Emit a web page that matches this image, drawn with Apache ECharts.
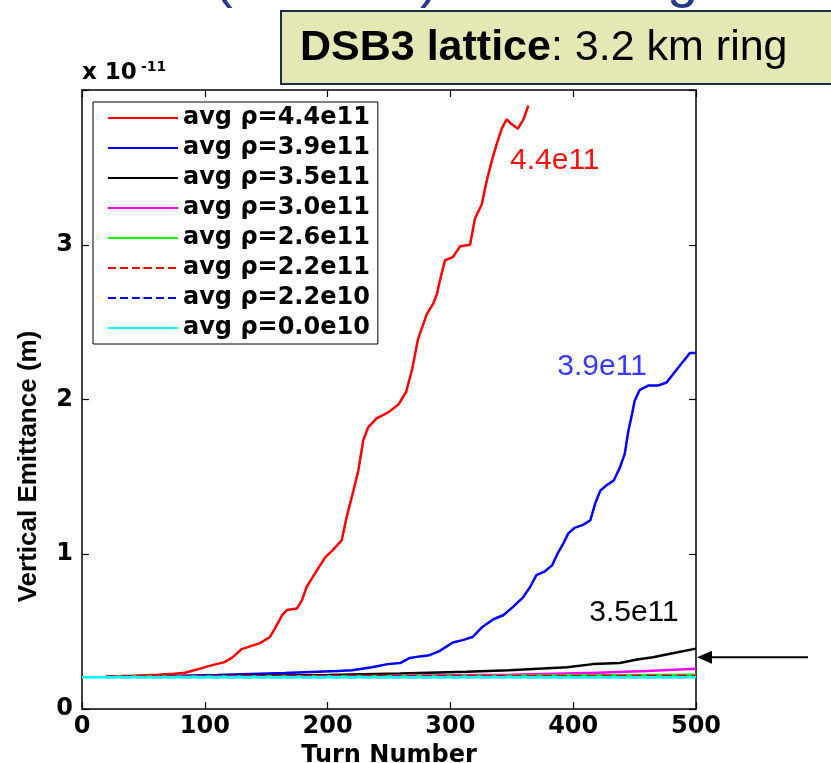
<!DOCTYPE html>
<html>
<head>
<meta charset="utf-8">
<script src="https://cdn.jsdelivr.net/npm/echarts@6/dist/echarts.min.js"></script>
<style>
  html, body { margin: 0; padding: 0; background: #fff; }
  #chart { width: 831px; height: 763px; }
</style>
</head>
<body>
<div id="chart"></div>
<script>
// Turn axis and emittance axis (emittance in units of 1e-11 m)
const turnTicks = [0, 100, 200, 300, 400, 500];
const emittanceTicks = [0, 1, 2, 3, 4];
const emittanceLabels = ['0', '1', '2', '3', ''];

// Legend entries, one per bunch density
const seriesNames = [
  'avg \u03c1=4.4e11', 'avg \u03c1=3.9e11', 'avg \u03c1=3.5e11', 'avg \u03c1=3.0e11',
  'avg \u03c1=2.6e11', 'avg \u03c1=2.2e11', 'avg \u03c1=2.2e10', 'avg \u03c1=0.0e10'
];

// [turn, vertical emittance / 1e-11 m]
const rho44e11 = [
  [20, 0.21], [40, 0.215], [62, 0.222], [75, 0.228], [84, 0.234], [95, 0.258], [103, 0.277],
  [116, 0.303], [122, 0.33], [130, 0.387], [135, 0.40], [145, 0.426], [153, 0.465], [157, 0.52],
  [163, 0.606], [167, 0.64], [175, 0.65], [179, 0.70], [183, 0.79], [190, 0.88], [198, 0.98],
  [204, 1.025], [208, 1.06], [211.5, 1.09], [215.5, 1.24], [221, 1.41], [225, 1.54], [229, 1.735],
  [233, 1.82], [240, 1.88], [243, 1.89], [250, 1.92], [258, 1.97], [264, 2.05], [269, 2.2],
  [273.6, 2.39], [280.7, 2.55], [286, 2.62], [289, 2.68], [291.5, 2.77], [295.6, 2.90], [302, 2.92],
  [308, 2.99], [316, 3.0], [320, 3.17], [325.5, 3.26], [329.5, 3.41], [333.6, 3.54], [337.7, 3.65],
  [341.8, 3.75], [345.8, 3.81], [349.8, 3.78], [355, 3.75], [359.5, 3.81], [363.5, 3.90]
];
const rho39e11 = [
  [20, 0.21], [60, 0.212], [110, 0.22], [165, 0.232], [192, 0.24], [208, 0.245], [220, 0.25],
  [236, 0.27], [249, 0.29], [259, 0.297], [267, 0.33], [275, 0.34], [283, 0.348], [291, 0.374],
  [302, 0.43], [310, 0.445], [318, 0.465], [326, 0.53], [335, 0.58], [343, 0.606], [351, 0.66],
  [359, 0.72], [365, 0.79], [370, 0.865], [377, 0.89], [383, 0.93], [387, 1.0], [392, 1.07],
  [396, 1.135], [401, 1.17], [408, 1.19], [414, 1.22], [418, 1.33], [422, 1.41], [427, 1.445],
  [433, 1.477], [438, 1.56], [442, 1.65], [445, 1.80], [448, 1.91], [450, 1.99], [454, 2.06],
  [461, 2.09], [469, 2.09], [476, 2.11], [484, 2.19], [491, 2.26], [495, 2.30], [500, 2.30]
];
const rho35e11 = [
  [20, 0.21], [100, 0.212], [200, 0.22], [259, 0.23], [313, 0.24], [348, 0.25], [395, 0.27],
  [416, 0.29], [438, 0.297], [452, 0.32], [465, 0.335], [481, 0.36], [500, 0.39]
];
const rho30e11 = [
  [20, 0.21], [150, 0.212], [250, 0.215], [350, 0.222], [420, 0.235], [460, 0.245], [500, 0.26]
];
const rho26e11 = [[20, 0.21], [200, 0.212], [350, 0.215], [500, 0.222]];
const rho22e11 = [[20, 0.21], [250, 0.212], [500, 0.215]];
const rho22e10 = [[20, 0.207], [500, 0.207]];
const rho00e10 = [[0, 0.205], [500, 0.205]];

// Curve labels: text and the [turn, emittance] point they sit on
const curveLabels = ['4.4e11', '3.9e11', '3.5e11'];
const curveLabelAt = [[385, 3.54], [423.5, 2.21], [449.5, 0.62]];
// Point on the right edge that the arrow indicates
const arrowTarget = [500, 0.335];

const colors = ['#ff0000', '#0000ff', '#000000', '#ff00ff', '#00ff00', '#ff0000', '#0000ff', '#00ffff'];
const dashes = ['solid', 'solid', 'solid', 'solid', 'solid', 'dashed', 'dashed', 'solid'];
const dataSets = [rho44e11, rho39e11, rho35e11, rho30e11, rho26e11, rho22e11, rho22e10, rho00e10];
const labelColors = ['#ff1010', '#3a3aff', '#000000'];

const boldFont = 'DejaVu Sans';
const chart = echarts.init(document.getElementById('chart'), null, { renderer: 'canvas' });

function labelMark(i) {
  return {
    symbol: 'rect',
    symbolSize: 1,
    itemStyle: { color: 'rgba(0,0,0,0)' },
    label: {
      show: true, position: 'inside', formatter: curveLabels[i],
      color: labelColors[i], fontFamily: 'Liberation Sans', fontSize: 30
    },
    data: [{ coord: curveLabelAt[i] }],
    silent: true
  };
}

const series = dataSets.map((d, i) => ({
  name: seriesNames[i],
  type: 'line',
  data: d,
  symbol: 'none',
  showSymbol: false,
  clip: true,
  z: 2 + i,
  lineStyle: { color: colors[i], width: 2.5, type: dashes[i] },
  itemStyle: { color: colors[i] },
  markPoint: i < 3 ? labelMark(i) : undefined
}));

const frameLine = { show: true, onZero: false, lineStyle: { color: '#000', width: 1.5 } };
const innerTick = { show: true, inside: true, length: 7, lineStyle: { color: '#000', width: 1.2 } };
const tickFont = { fontFamily: boldFont, fontWeight: 'bold', fontSize: 24, color: '#000' };

chart.setOption({
  animation: false,
  backgroundColor: '#fff',
  grid: { left: 82, right: 135, top: 90, bottom: 54, outerBoundsMode: 'none', containLabel: false },
  xAxis: [
    {
      type: 'value', min: turnTicks[0], max: turnTicks[turnTicks.length - 1], interval: 100,
      position: 'bottom',
      axisLine: frameLine, axisTick: innerTick, splitLine: { show: false },
      axisLabel: Object.assign({ margin: 6 }, tickFont),
      name: 'Turn Number', nameLocation: 'middle', nameGap: 29,
      nameTextStyle: { fontFamily: boldFont, fontWeight: 'bold', fontSize: 24, color: '#000' }
    },
    {
      type: 'value', min: turnTicks[0], max: turnTicks[turnTicks.length - 1], interval: 100,
      position: 'top',
      axisLine: frameLine, axisTick: innerTick, splitLine: { show: false },
      axisLabel: { show: false }
    }
  ],
  yAxis: [
    {
      type: 'value', min: emittanceTicks[0], max: emittanceTicks[emittanceTicks.length - 1], interval: 1,
      position: 'left',
      axisLine: frameLine, axisTick: innerTick, splitLine: { show: false },
      axisLabel: Object.assign({
        margin: 9,
        formatter: v => emittanceLabels[emittanceTicks.indexOf(v)] ?? ''
      }, tickFont),
      name: 'Vertical Emittance (m)', nameLocation: 'middle', nameGap: 40,
      nameTextStyle: {
        fontFamily: 'Liberation Sans', fontWeight: 'bold', fontSize: 26, color: '#000',
        // the title sits below the axis centre, between the 2 and 1 ticks
        padding: [0, 134, 0, 0]
      }
    },
    {
      type: 'value', min: emittanceTicks[0], max: emittanceTicks[emittanceTicks.length - 1], interval: 1,
      position: 'right',
      axisLine: frameLine, axisTick: innerTick, splitLine: { show: false },
      axisLabel: { show: false }
    }
  ],
  legend: {
    data: seriesNames,
    orient: 'vertical',
    left: 93, top: 102,
    padding: [4, 8, 4, 14],
    itemWidth: 70, itemHeight: 2, itemGap: 6,
    borderColor: '#000', borderWidth: 1, backgroundColor: '#fff',
    selectedMode: false,
    textStyle: { fontFamily: boldFont, fontWeight: 'bold', fontSize: 24, lineHeight: 22, color: '#000' }
  },
  series: series
});

// Callouts drawn around the plot
const tip = chart.convertToPixel({ xAxisIndex: 0, yAxisIndex: 0 }, arrowTarget);
const titleBlue = '#25388c';
chart.setOption({
  graphic: [
    { type: 'text', x: 214, y: -19, z: 1, style: { text: '(', fontFamily: 'Liberation Sans', fontSize: 56, fill: titleBlue, verticalAlign: 'middle' } },
    { type: 'text', x: 420, y: -19, z: 1, style: { text: ')', fontFamily: 'Liberation Sans', fontSize: 56, fill: titleBlue, verticalAlign: 'middle' } },
    { type: 'text', x: 667, y: -19, z: 1, style: { text: 'g', fontFamily: 'Liberation Sans', fontSize: 56, fill: titleBlue, verticalAlign: 'middle' } },
    {
      type: 'rect', z: 10,
      shape: { x: 281, y: 11, width: 570, height: 73 },
      style: { fill: '#e3e8b5', stroke: '#1d2b4f', lineWidth: 2 }
    },
    {
      type: 'text', z: 11, x: 300, y: 48,
      style: {
        text: '{b|DSB3 lattice}{r|: 3.2 km ring}',
        verticalAlign: 'middle',
        rich: {
          b: { fontFamily: 'Liberation Sans', fontWeight: 'bold', fontSize: 43, fill: '#000' },
          r: { fontFamily: 'Liberation Sans', fontSize: 43, fill: '#000' }
        }
      }
    },
    { type: 'text', x: 82, y: 85, style: { text: 'x 10', fontFamily: boldFont, fontWeight: 'bold', fontSize: 23, fill: '#000', verticalAlign: 'bottom' } },
    { type: 'text', x: 141, y: 74, style: { text: '-11', fontFamily: boldFont, fontWeight: 'bold', fontSize: 14, fill: '#000', verticalAlign: 'bottom' } },
    {
      type: 'line', z: 10,
      shape: { x1: 808, y1: tip[1], x2: tip[0] + 14, y2: tip[1] },
      style: { stroke: '#000', lineWidth: 2 }
    },
    {
      type: 'polygon', z: 10,
      shape: { points: [[tip[0] + 1, tip[1]], [tip[0] + 16, tip[1] - 6.5], [tip[0] + 16, tip[1] + 6.5]] },
      style: { fill: '#000' }
    }
  ]
});
</script>
</body>
</html>
